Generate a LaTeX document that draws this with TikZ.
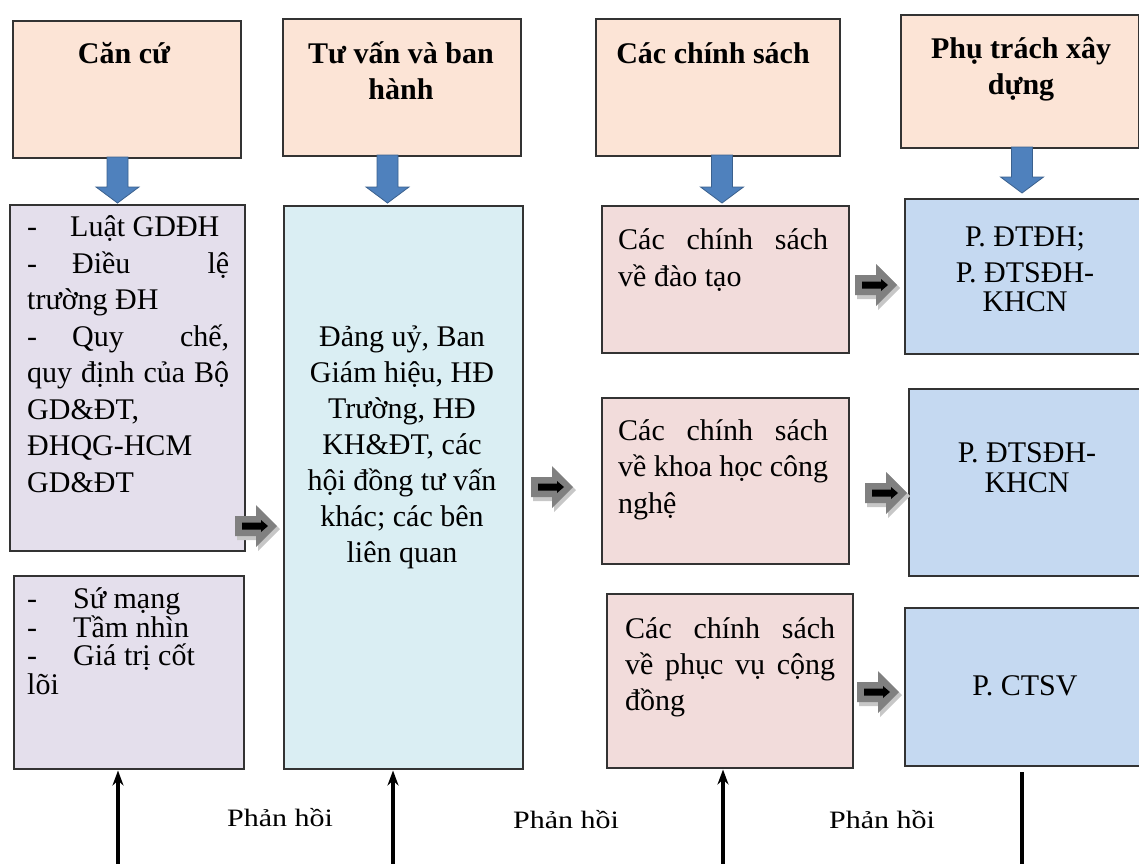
\documentclass[tikz,border=0pt]{standalone}
\usepackage{fontspec}
\setmainfont{Liberation Serif}
\usetikzlibrary{arrows.meta}

\definecolor{hdrfill}{HTML}{FCE4D6}
\definecolor{lilac}{HTML}{E4DFEC}
\definecolor{paleblue}{HTML}{DAEEF3}
\definecolor{rosefill}{HTML}{F2DCDB}
\definecolor{unitblue}{HTML}{C5D9F1}
\definecolor{arrowblue}{HTML}{4F81BD}

\newcommand{\bodyfont}{\fontsize{30}{36}\selectfont\lineskiplimit=-100pt}
\newcommand{\hdrfont}{\fontsize{30}{36}\selectfont\bfseries\lineskiplimit=-100pt}
\newcommand{\fl}[2]{\hbox to #1{#2}}

% multi-line texts are anchored at the baseline of their last line
\tikzset{
  box/.style={draw=black!80, line width=1.5pt, rectangle, inner sep=0pt, anchor=north west},
  hdr/.style={box, fill=hdrfill},
  txt/.style={inner sep=0pt, anchor=base, align=center, font=\bodyfont},
  ltxt/.style={inner sep=0pt, anchor=base west, align=left, font=\bodyfont},
  htxt/.style={inner sep=0pt, anchor=base, align=center, font=\hdrfont},
  fb/.style={line width=3.4pt, black},
  fbtip/.style={-{Stealth[length=15pt,width=11pt]}, shorten >=1pt},
  fblabel/.style={inner sep=0pt, anchor=base, font=\fontsize{25}{30}\selectfont},
  pics/bluearr/.style={code={
    \filldraw[fill=arrowblue, draw=arrowblue!75!black, line width=0.8pt]
      (-10.5,0) -- (10.5,0) -- (10.5,{#1-16}) -- (21.5,{#1-16}) -- (0,#1)
      -- (-21.5,{#1-16}) -- (-10.5,{#1-16}) -- cycle;}},
  pics/grayarr/.style={code={
    \fill[black!22] (-19,-8) -- (2,-8) -- (2,-19) -- (24,3) -- (2,25) -- (2,14) -- (-19,14) -- cycle;
    \fill[black!50] (-21,-10) -- (0,-10) -- (0,-21) -- (21,0) -- (0,21) -- (0,10) -- (-21,10) -- cycle;
    \fill[black] (-14,-3.5) -- (5,-3.5) -- (5,-6) -- (12,0) -- (5,6) -- (5,3.5) -- (-14,3.5) -- cycle;}}
}

\begin{document}
\begin{tikzpicture}[x=1pt,y=-1pt]
\useasboundingbox (0,0) rectangle (1139,863);

% header row
\node[hdr, minimum width=228, minimum height=137] (h1) at (12,20) {};
\node[hdr, minimum width=238, minimum height=137] (h2) at (282,18) {};
\node[hdr, minimum width=244, minimum height=137] (h3) at (595,18) {};
\node[hdr, minimum width=238, minimum height=133] (h4) at (900,14) {};

\node[htxt] (h1t) at (124,63) {Căn cứ};
\node[htxt] (h2t) at (401,99) {Tư vấn và ban\\hành};
\node[htxt] (h3t) at (713,63) {Các chính sách};
\node[htxt] (h4t) at (1021,94) {Phụ trách xây\\dựng};

% down arrows under the headers
\pic at (117.5,157) {bluearr=46};
\pic at (387.5,155) {bluearr=48};
\pic at (722,155) {bluearr=48};
\pic at (1022,147) {bluearr=46};

% left column
\node[box, fill=lilac, minimum width=235, minimum height=346] (p1) at (9,204) {};
\node[box, fill=lilac, minimum width=230, minimum height=193] (p2) at (13,575) {};

\node[ltxt, font={\fontsize{30}{36.5}\selectfont\lineskiplimit=-100pt}] (p1t) at (27,492) {%
  \makebox[43pt][l]{-}Luật GDĐH\\
  \fl{202pt}{\makebox[45pt][l]{-}Điều\hfill lệ}\\
  trường ĐH\\
  \fl{202pt}{\makebox[45pt][l]{-}Quy\hfill chế,}\\
  \fl{202pt}{quy định của Bộ}\\
  GD\&ĐT,\\
  ĐHQG-HCM\\
  GD\&ĐT};

\node[ltxt, font={\fontsize{30}{28.5}\selectfont\lineskiplimit=-100pt}] (p2t) at (27,694) {%
  \makebox[46pt][l]{-}Sứ mạng\\
  \makebox[46pt][l]{-}Tầm nhìn\\
  \makebox[46pt][l]{-}Giá trị cốt\\
  lõi};

% advisory column
\node[box, fill=paleblue, minimum width=239, minimum height=563] (c) at (283,205) {};
\node[txt, font={\fontsize{30}{36}\selectfont\lineskiplimit=-100pt}] (ct) at (402,562) {%
  Đảng uỷ, Ban\\Giám hiệu, HĐ\\Trường, HĐ\\KH\&ĐT, các\\hội đồng tư vấn\\khác; các bên\\liên quan};

% policy column
\node[box, fill=rosefill, minimum width=247, minimum height=147] (r1) at (601,205) {};
\node[box, fill=rosefill, minimum width=247, minimum height=166] (r2) at (601,397) {};
\node[box, fill=rosefill, minimum width=246, minimum height=174] (r3) at (606,593) {};

\node[ltxt, font={\fontsize{30}{37}\selectfont\lineskiplimit=-100pt}] (r1t) at (618,286) {%
  \fl{210pt}{Các\hfill chính\hfill sách}\\về đào tạo};
\node[ltxt, font={\fontsize{30}{36.5}\selectfont\lineskiplimit=-100pt}] (r2t) at (618,513) {%
  \fl{210pt}{Các\hfill chính\hfill sách}\\\fl{210pt}{về khoa học công}\\nghệ};
\node[ltxt] (r3t) at (625,710) {%
  \fl{210pt}{Các\hfill chính\hfill sách}\\\fl{210pt}{về phục vụ cộng}\\đồng};

% units column
\node[box, fill=unitblue, minimum width=236, minimum height=155] (b1) at (904,198) {};
\node[box, fill=unitblue, minimum width=232, minimum height=187] (b2) at (908,388) {};
\node[box, fill=unitblue, minimum width=236, minimum height=158] (b3) at (904,607) {};

\node[txt, font={\fontsize{30}{29}\selectfont\lineskiplimit=-100pt}] (b1t) at (1025,311) {P. ĐTĐH;\\[7pt]P. ĐTSĐH-\\KHCN};
\node[txt, font={\fontsize{30}{30}\selectfont\lineskiplimit=-100pt}] (b2t) at (1027,492) {P. ĐTSĐH-\\KHCN};
\node[txt] (b3t) at (1025,695) {P. CTSV};

% block arrows between columns
\pic at (256,526) {grayarr};
\pic at (552,487) {grayarr};
\pic at (876,285) {grayarr};
\pic at (886,493) {grayarr};
\pic at (878,692) {grayarr};

% feedback lines
\coordinate (f1) at (118,870);
\coordinate (f2) at (393,870);
\coordinate (f3) at (723,870);
\coordinate (f4) at (1022,870);
\draw[fb, fbtip] (f1) -- (f1 |- p2.south);
\draw[fb, fbtip] (f2) -- (f2 |- c.south);
\draw[fb, fbtip] (f3) -- (f3 |- r3.south);
\draw[fb, shorten >=5pt] (f4) -- (f4 |- b3.south);

\node[fblabel] (fb1) at (280,826) {\scalebox{1.2}[1]{Phản hồi}};
\node[fblabel] (fb2) at (566,828) {\scalebox{1.2}[1]{Phản hồi}};
\node[fblabel] (fb3) at (882,828) {\scalebox{1.2}[1]{Phản hồi}};
\end{tikzpicture}
\end{document}
